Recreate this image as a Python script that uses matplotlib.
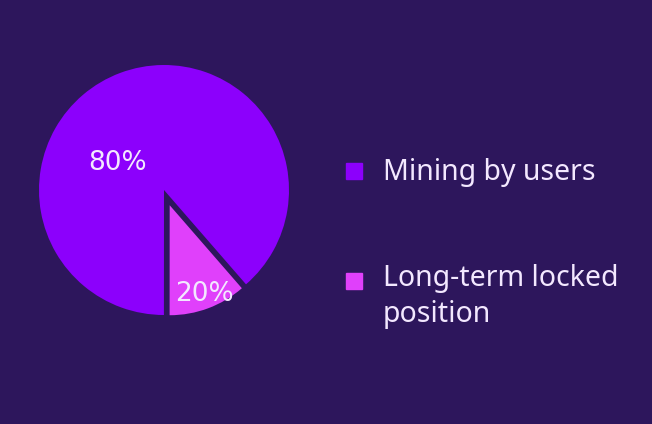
import matplotlib.pyplot as plt
from matplotlib.patches import Rectangle

# data (drawn angles) and the printed labels
categories = ["Mining by users", "Long-term locked\nposition"]
shares = [88.6, 11.4]
pct_labels = ["80%", "20%"]
colors = ["#8C00FC", "#E040FB"]
bg = "#2D165C"
txt = "#F3E8FF"

fig = plt.figure(figsize=(6.52, 4.24), dpi=100, facecolor=bg)

# square axes, centre of pie at about (164, 190) px, radius 125 px
ax = fig.add_axes([1.5 / 652, 71.5 / 424, 325 / 652, 325 / 424])
ax.set_facecolor(bg)
wedges, _ = ax.pie(shares, colors=colors, startangle=-49, counterclock=True,
                   explode=[0, 0.13], radius=1.0,
                   wedgeprops=dict(linewidth=0))
wedges[1].set_radius(0.88)
ax.set_xlim(-1.3, 1.3)
ax.set_ylim(-1.3, 1.3)
ax.axis("off")

# percentage texts
ax.text(-0.37, 0.22, pct_labels[0], color=txt, fontsize=19, family="DejaVu Sans",
        ha="center", va="center")
ax.text(0.32, -0.83, pct_labels[1], color=txt, fontsize=19, family="DejaVu Sans",
        ha="center", va="center")

# legend built by hand so the square lines up with the first text line
square_y = [171, 281]      # px, centre of each square
baseline_y = [180, 322]    # px, baseline of the last text line
for c, lab, sy, by in zip(colors, categories, square_y, baseline_y):
    fig.patches.append(Rectangle((346 / 652, 1 - (sy + 8) / 424), 16 / 652, 16 / 424,
                                 transform=fig.transFigure, color=c))
    fig.text(383 / 652, 1 - by / 424, lab, color=txt, fontsize=20.5,
             family="Noto Sans", ha="left", va="baseline", linespacing=1.3)

fig.savefig("out.png", dpi=100, facecolor=bg)
